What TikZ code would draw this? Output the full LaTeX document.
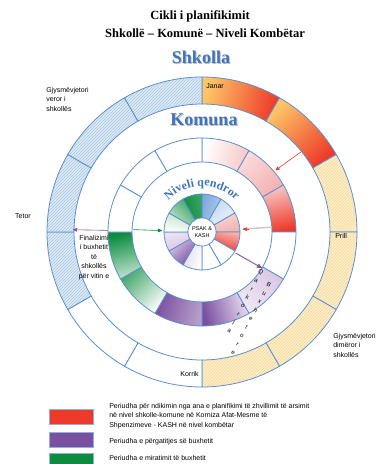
\documentclass[tikz,border=0pt]{standalone}
\usepackage{fontspec}
\setmainfont{Liberation Sans}
\newfontfamily\titlefont{Liberation Serif}
\usepackage{tikz}
\usetikzlibrary{arrows,positioning,patterns,calc,decorations.text}

\definecolor{ringblue}{HTML}{5B8FD0}
\definecolor{wordblue}{HTML}{3E74BD}
\definecolor{budred}{HTML}{EE3A2A}
\definecolor{budorange}{HTML}{FDC568}
\definecolor{budpink}{HTML}{F4B0B0}
\definecolor{budpurple}{HTML}{7B4FA0}
\definecolor{budlilac}{HTML}{D9C6E6}
\definecolor{budgreen}{HTML}{0B8C3E}
\definecolor{budmint}{HTML}{BFE2C8}
\definecolor{skyblue}{HTML}{DFEAF6}
\definecolor{skyhatch}{HTML}{A9C6EA}
\definecolor{sand}{HTML}{FDF0D0}
\definecolor{sandhatch}{HTML}{F8D68E}
\definecolor{midblue}{HTML}{7EA9DC}

\tikzstyle{seg} = [draw=ringblue, line width=0.8pt]
\tikzstyle{plain} = [fill=white]
\tikzstyle{tangent} = [shading angle=\segm]
\tikzstyle{bluehatch} = [preaction={fill=skyblue}, pattern=north east lines, pattern color=skyhatch]
\tikzstyle{sandhatch} = [preaction={fill=sand}, pattern=north east lines, pattern color=sandhatch]
\tikzstyle{lbl} = [font=\fontsize{7}{9.5}\selectfont, inner sep=0pt, align=left]
\tikzstyle{stacked} = [font=\fontsize{6}{9.5}\selectfont, inner sep=0pt, align=center, rotate=-28, anchor=north]
\tikzstyle{titletext} = [font=\titlefont\bfseries\fontsize{12.5}{14}\selectfont, inner sep=0pt]
\tikzstyle{wordart} = [font=\titlefont\bfseries\fontsize{18}{18}\selectfont, text=wordblue, inner sep=0pt]
\tikzstyle{legendbox} = [draw=ringblue!70, line width=0.6pt, minimum width=44pt, minimum height=15pt, inner sep=0pt]

% ring segment: inner radius, outer radius, month index (clockwise from top), style
\newcommand{\ringseg}[4]{%
  \pgfmathsetmacro\sega{90-30*#3}%
  \pgfmathsetmacro\segb{60-30*#3}%
  \pgfmathsetmacro\segm{75-30*#3}%
  \path[seg,#4] (\sega:#1) arc[start angle=\sega, end angle=\segb, radius=#1]
    -- (\segb:#2) arc[start angle=\segb, end angle=\sega, radius=#2] -- cycle;}

\begin{document}
\begin{tikzpicture}[x=1pt,y=1pt,>=stealth',semithick]
\useasboundingbox (-202,-232) rectangle (180,232);

\node[titletext] (title1) at (-2,216) {Cikli i planifikimit};
\node[titletext] (title2) at (3,199) {Shkollë – Komunë – Niveli Kombëtar};

% outer ring: Shkolla
\ringseg{128}{155}{0}{left color=budorange, right color=budred, tangent};
\ringseg{128}{155}{1}{left color=budorange, right color=budred, tangent};
\foreach \i in {2,...,5} \ringseg{128}{155}{\i}{sandhatch};
\foreach \i in {6,7} \ringseg{128}{155}{\i}{plain};
\foreach \i in {8,...,11} \ringseg{128}{155}{\i}{bluehatch};

% middle ring: Komuna
\ringseg{70}{94}{0}{left color=white, middle color=white, right color=budpink!70, tangent};
\ringseg{70}{94}{1}{left color=budpink!45, right color=budpink, tangent};
\ringseg{70}{94}{2}{left color=budpink!70, right color=budred, tangent};
\ringseg{70}{94}{3}{plain};
\ringseg{70}{94}{4}{left color=budlilac, right color=budlilac!40, tangent};
\ringseg{70}{94}{5}{left color=budlilac!60, right color=budpurple, tangent};
\ringseg{70}{94}{6}{left color=budpurple!55, right color=budpurple, tangent};
\ringseg{70}{94}{7}{left color=white, right color=budgreen!75, tangent};
\ringseg{70}{94}{8}{left color=budgreen!25, right color=budgreen, tangent};
\foreach \i in {9,10,11} \ringseg{70}{94}{\i}{plain};

% inner ring: Niveli qendror
\ringseg{14}{38}{0}{left color=midblue, right color=midblue!60, tangent};
\ringseg{14}{38}{1}{left color=midblue!45, right color=midblue!15, tangent};
\ringseg{14}{38}{2}{left color=budpink!50, right color=budpink, tangent};
\ringseg{14}{38}{3}{left color=budred!40, right color=budred, tangent};
\foreach \i in {4,5} \ringseg{14}{38}{\i}{plain};
\ringseg{14}{38}{6}{left color=white, right color=budlilac!70, tangent};
\ringseg{14}{38}{7}{left color=budpurple, right color=budlilac, tangent};
\ringseg{14}{38}{8}{left color=budlilac, right color=budlilac!50, tangent};
\ringseg{14}{38}{9}{left color=white, right color=budmint, tangent};
\ringseg{14}{38}{10}{left color=budmint, right color=budgreen!80, tangent};
\ringseg{14}{38}{11}{left color=budgreen, right color=budgreen!80, tangent};

\node[circle, draw=ringblue, fill=white, minimum size=28pt, inner sep=0pt, align=center,
  font=\fontsize{5.5}{6.5}\selectfont] (psak) at (0,0) {PSAK \&\\KASH};

% headings
\node[wordart, text=gray!50] at (0,174) {Shkolla};
\node[wordart] (shkolla) at (-1,175) {Shkolla};
\node[wordart, text=gray!50] at (3,111) {Komuna};
\node[wordart] (komuna) at (2,112) {Komuna};
\path[decorate, decoration={text along path, text align=center,
  text={|\titlefont\bfseries\fontsize{12}{12}\selectfont\color{wordblue}|Niveli qendror}}]
  (145:46) arc[start angle=145, end angle=35, radius=46];

% months and notes
\node[lbl, anchor=west] (janar) at (4,146) {Janar};
\node[lbl, anchor=west] (prill) at (133,-4) {Prill};
\node[lbl, anchor=east] (korrik) at (-3,-142) {Korrik};
\node[lbl] (tetor) at (-179,16) {Tetor};
\node[lbl, anchor=north west] (veror) at (-156,145) {Gjysmëvjetori\\veror i\\shkollës};
\node[lbl, anchor=north west] (dimeror) at (131,-101) {Gjysmëvjetori\\dimëror i\\shkollës};
\node[lbl, align=center, anchor=north] (finale) at (-108,-3) {Finalizimi\\i buxhetit\\të\\shkollës\\për vitin e};
\node[stacked] (qarkorja) at (60,-38) {Q\\a\\r\\k\\o\\r\\j\\a};
\node[stacked] (buxhetore) at (68,-51) {B\\u\\x\\h\\e\\t\\o\\r\\e};

% arrows
\coordinate (febout) at (39:127);
\coordinate (pinkin) at (40:96);
\coordinate (redmid) at (4:70);
\coordinate (redin) at (4:41);
\coordinate (redtail) at ($(redin)+(6,0)$);
\coordinate (greenmid) at (178:69);
\coordinate (greenin) at (178:40);
\coordinate (finmid) at (179:94);
\coordinate (finout) at (179:129);
\coordinate (whitein) at (-32:40);
\coordinate (lilacmid) at (-31:70);

\draw[->, budred] (febout) -- (pinkin);
\draw[gray!45, line width=1.4pt] (redmid) -- (redin);
\draw[->, budred] (redtail) -- (redin);
\draw[->, budgreen] (greenmid) -- (greenin);
\draw[->, budpurple] (finmid) -- (finout);
\draw[->, budpurple, line width=0.9pt] (whitein) -- (lilacmid);

% legend
\node[legendbox, fill=budred] (keyred) at (-131,-184.5) {};
\node[legendbox, fill=budpurple] (keypurple) [below=8pt of keyred] {};
\node[legendbox, fill=budgreen] (keygreen) [below=5pt of keypurple] {};
\node[lbl, anchor=north west] (txtred) at (-93,-171) {Periudha për ndikimin nga ana e planifikimi të zhvillimit të arsimit\\në nivel shkolle-komune në Korniza Afat-Mesme të\\Shpenzimeve - KASH në nivel kombëtar};
\node[lbl, anchor=west] (txtpurple) at (-93,-210) {Periudha e përgatitjes së buxhetit};
\node[lbl, anchor=west] (txtgreen) at (-93,-226) {Periudha e miratimit të buxhetit};

\end{tikzpicture}
\end{document}
